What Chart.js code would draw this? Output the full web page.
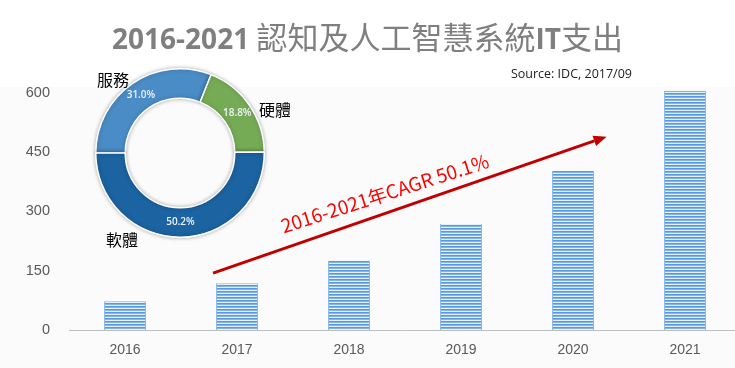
<!DOCTYPE html>
<html><head><meta charset="utf-8">
<script src="https://cdn.jsdelivr.net/npm/chart.js@4.4.1/dist/chart.umd.min.js"></script>
<style>
html,body{margin:0;padding:0;width:735px;height:368px;overflow:hidden;background:#fff;}
#wrap{position:relative;width:735px;height:368px;overflow:hidden;background:linear-gradient(#fff 0,#fff 87px,#fbfbfb 87px);}
#bar{position:absolute;left:0;top:0;}
#pie{position:absolute;left:70px;top:58px;}
#title{position:absolute;left:0;width:735px;top:16px;text-align:center;color:#7f7f7f;white-space:nowrap;line-height:40px;}
.lat{font-family:'Open Sans',sans-serif;font-weight:bold;font-size:28px;}
.cjk{font-family:'Noto Sans CJK TC',sans-serif;font-size:31px;font-weight:normal;}
#src{position:absolute;right:103px;top:65px;font-family:'Open Sans',sans-serif;font-size:12.5px;color:#222;}
</style></head>
<body>
<div id="wrap">
<canvas id="bar" width="745" height="368"></canvas>
<canvas id="pie" width="220" height="195"></canvas>
<div id="title"><span class="lat">2016-2021 </span><span class="cjk">認知及人工智慧系統</span><span class="lat">IT</span><span class="cjk">支出</span></div>
<div id="src">Source: IDC, 2017/09</div>
</div>
<script>
// ---- data ----
const categories = ['2016', '2017', '2018', '2019', '2020', '2021'];
const spending = [73, 118, 176, 268, 403, 605];
const yTicks = [0, 150, 300, 450, 600];
const segmentLabels = ['服務', '硬體', '軟體'];
const segmentShares = [31.0, 18.8, 50.2];
const trendText = '2016-2021年CAGR 50.1%';

// ---- annotation placement (in scale units) ----
const trendFrom = [0.786, 144];
const trendTo = [4.3, 489];
const trendLabelAt = [2.34, 328];

function stripePattern() {
  const c = document.createElement('canvas');
  c.width = 4; c.height = 3;
  const g = c.getContext('2d');
  g.fillStyle = '#e4effa'; g.fillRect(0, 0, 4, 3);
  g.fillStyle = '#5a9ad8'; g.fillRect(0, 0, 4, 1);
  g.fillStyle = '#82b4e7'; g.fillRect(0, 1, 4, 1);
  return g.createPattern(c, 'repeat');
}

const arrowPlugin = {
  id: 'trendArrow',
  afterDatasetsDraw(chart) {
    const {ctx, scales: {x, y}} = chart;
    const x1 = x.getPixelForValue(trendFrom[0]), y1 = y.getPixelForValue(trendFrom[1]);
    const x2 = x.getPixelForValue(trendTo[0]), y2 = y.getPixelForValue(trendTo[1]);
    const ang = Math.atan2(y2 - y1, x2 - x1);
    const hl = 13, hw = 5.5;
    const bx = x2 - hl * Math.cos(ang), by = y2 - hl * Math.sin(ang);
    ctx.save();
    ctx.strokeStyle = '#c00000';
    ctx.fillStyle = '#c00000';
    ctx.lineWidth = 3;
    ctx.beginPath(); ctx.moveTo(x1, y1); ctx.lineTo(bx, by); ctx.stroke();
    ctx.beginPath();
    ctx.moveTo(x2, y2);
    ctx.lineTo(bx + hw * Math.sin(ang), by - hw * Math.cos(ang));
    ctx.lineTo(bx - hw * Math.sin(ang), by + hw * Math.cos(ang));
    ctx.closePath(); ctx.fill();
    const tx = x.getPixelForValue(trendLabelAt[0]), ty = y.getPixelForValue(trendLabelAt[1]);
    ctx.translate(tx, ty);
    ctx.rotate(-17.8 * Math.PI / 180);
    ctx.fillStyle = '#ff0000';
    ctx.font = '19px "Noto Sans CJK TC", "Noto Sans", sans-serif';
    ctx.textAlign = 'center';
    ctx.textBaseline = 'alphabetic';
    ctx.fillText(trendText, 0, 0);
    ctx.restore();
  }
};

new Chart(document.getElementById('bar'), {
  type: 'bar',
  data: {
    labels: categories,
    datasets: [{
      data: spending,
      backgroundColor: stripePattern(),
      borderColor: '#8dbbe8',
      borderWidth: {left: 1, right: 1, top: 0},
      borderSkipped: 'bottom',
      barPercentage: 0.375,
      categoryPercentage: 1
    }]
  },
  options: {
    responsive: false,
    animation: false,
    devicePixelRatio: 1,
    layout: {padding: {top: 73, right: 4, left: 0, bottom: 0}},
    plugins: {legend: {display: false}, tooltip: {enabled: false}},
    scales: {
      x: {
        grid: {display: false, drawTicks: false},
        border: {display: true, color: '#bfbfbf', width: 1},
        ticks: {color: '#595959', font: {family: 'Liberation Sans', size: 14}, padding: 12},
        afterFit: s => { s.height = 38; }
      },
      y: {
        min: 0, max: 650,
        afterBuildTicks: a => { a.ticks = yTicks.map(v => ({value: v})); },
        grid: {display: false, drawTicks: false},
        border: {display: false},
        ticks: {color: '#595959', font: {family: 'Liberation Sans', size: 14.5}, padding: 19},
        afterFit: s => { s.width = 69; }
      }
    }
  },
  plugins: [arrowPlugin]
});

const labelOffsets = [[-67, -73], [95, -43], [-58, 87]];
const pieLabels = {
  id: 'pieLabels',
  beforeDatasetsDraw(chart) {
    const ctx = chart.ctx;
    ctx.save();
    ctx.shadowColor = 'rgba(0,0,0,0.28)';
    ctx.shadowBlur = 4;
  },
  afterDatasetsDraw(chart) {
    const ctx = chart.ctx;
    ctx.restore();
    const meta = chart.getDatasetMeta(0);
    ctx.save();
    ctx.textAlign = 'center';
    ctx.textBaseline = 'middle';
    meta.data.forEach((arc, i) => {
      const p = arc.tooltipPosition();
      ctx.fillStyle = '#eef4fa';
      ctx.font = '600 10px "Open Sans", sans-serif';
      ctx.fillText(segmentShares[i].toFixed(1) + '%', p.x, p.y);
      ctx.fillStyle = '#000';
      ctx.font = '16px "Noto Sans CJK TC", sans-serif';
      ctx.fillText(segmentLabels[i], arc.x + labelOffsets[i][0], arc.y + labelOffsets[i][1]);
    });
    ctx.restore();
  }
};

new Chart(document.getElementById('pie'), {
  type: 'doughnut',
  data: {
    labels: segmentLabels,
    datasets: [{
      data: segmentShares,
      backgroundColor: ['#4a8cc6', '#76ab56', '#1b63a1'],
      borderColor: '#ffffff',
      borderWidth: 1.5
    }]
  },
  options: {
    responsive: false,
    animation: false,
    devicePixelRatio: 1,
    rotation: -90,
    cutout: '65%',
    layout: {padding: {left: 25, right: 25, top: 10, bottom: 15}},
    plugins: {legend: {display: false}, tooltip: {enabled: false}}
  },
  plugins: [pieLabels]
});
</script>
</body></html>
